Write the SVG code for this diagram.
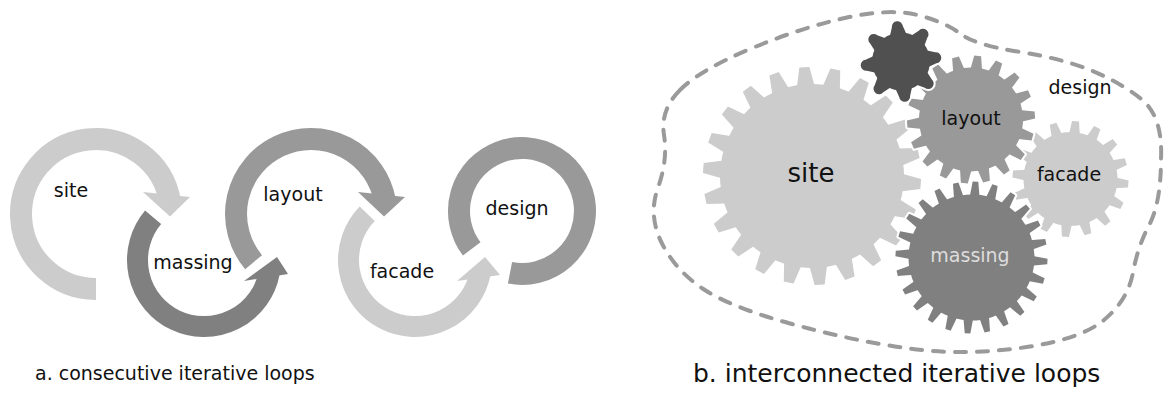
<svg xmlns="http://www.w3.org/2000/svg" xmlns:xlink="http://www.w3.org/1999/xlink" width="1164" height="396" viewBox="0 0 1164 396">
  <style>
    text { font-family: "DejaVu Sans", "Liberation Sans", sans-serif; fill: #111111; }
    .lbl { font-size: 19px; text-anchor: middle; }
    .cap { font-size: 19px; }
    .band { fill: none; stroke-width: 22; stroke-linecap: butt; }
    .band.thin { stroke-width: 21; }
    .c-light { stroke: #cccccc; }
    .c-mid { stroke: #999999; }
    .c-dark { stroke: #808080; }
    .f-light { fill: #cccccc; }
    .f-mid { fill: #999999; }
    .f-dark { fill: #808080; }
    .halo { fill: #ffffff; stroke: #ffffff; stroke-width: 4; stroke-linejoin: round; }
    .boundary { fill: none; stroke: #9a9a9a; stroke-width: 4; stroke-dasharray: 11 11; stroke-linecap: round; }
  </style>

  <defs>
    <!-- single teeth, pointing up from the gear centre -->
    <polygon id="tooth-site" points="-9,-89 -5,-109 5,-109 9,-89"/>
    <polygon id="tooth-layout" points="-6,-49 -3.5,-64 3.5,-64 6,-49"/>
    <polygon id="tooth-facade" points="-5.5,-44 -3.5,-58 3.5,-58 5.5,-44"/>
    <polygon id="tooth-massing" points="-5,-60 -2.8,-76 2.8,-76 5,-60"/>
    <path id="tooth-small" d="M-8.5,-26 L-5.5,-35 A5.5,5.5 0 0 1 5.5,-35 L8.5,-26 Z"/>

    <g id="gear-site-shape">
      <circle r="92"/>
      <use xlink:href="#tooth-site" transform="rotate(0)"/>
      <use xlink:href="#tooth-site" transform="rotate(16.36)"/>
      <use xlink:href="#tooth-site" transform="rotate(32.73)"/>
      <use xlink:href="#tooth-site" transform="rotate(49.09)"/>
      <use xlink:href="#tooth-site" transform="rotate(65.45)"/>
      <use xlink:href="#tooth-site" transform="rotate(81.82)"/>
      <use xlink:href="#tooth-site" transform="rotate(98.18)"/>
      <use xlink:href="#tooth-site" transform="rotate(114.55)"/>
      <use xlink:href="#tooth-site" transform="rotate(130.91)"/>
      <use xlink:href="#tooth-site" transform="rotate(147.27)"/>
      <use xlink:href="#tooth-site" transform="rotate(163.64)"/>
      <use xlink:href="#tooth-site" transform="rotate(180)"/>
      <use xlink:href="#tooth-site" transform="rotate(196.36)"/>
      <use xlink:href="#tooth-site" transform="rotate(212.73)"/>
      <use xlink:href="#tooth-site" transform="rotate(229.09)"/>
      <use xlink:href="#tooth-site" transform="rotate(245.45)"/>
      <use xlink:href="#tooth-site" transform="rotate(261.82)"/>
      <use xlink:href="#tooth-site" transform="rotate(278.18)"/>
      <use xlink:href="#tooth-site" transform="rotate(294.55)"/>
      <use xlink:href="#tooth-site" transform="rotate(310.91)"/>
      <use xlink:href="#tooth-site" transform="rotate(327.27)"/>
      <use xlink:href="#tooth-site" transform="rotate(343.64)"/>
    </g>

    <g id="gear-layout-shape">
      <circle r="52"/>
      <use xlink:href="#tooth-layout" transform="rotate(0)"/>
      <use xlink:href="#tooth-layout" transform="rotate(20)"/>
      <use xlink:href="#tooth-layout" transform="rotate(40)"/>
      <use xlink:href="#tooth-layout" transform="rotate(60)"/>
      <use xlink:href="#tooth-layout" transform="rotate(80)"/>
      <use xlink:href="#tooth-layout" transform="rotate(100)"/>
      <use xlink:href="#tooth-layout" transform="rotate(120)"/>
      <use xlink:href="#tooth-layout" transform="rotate(140)"/>
      <use xlink:href="#tooth-layout" transform="rotate(160)"/>
      <use xlink:href="#tooth-layout" transform="rotate(180)"/>
      <use xlink:href="#tooth-layout" transform="rotate(200)"/>
      <use xlink:href="#tooth-layout" transform="rotate(220)"/>
      <use xlink:href="#tooth-layout" transform="rotate(240)"/>
      <use xlink:href="#tooth-layout" transform="rotate(260)"/>
      <use xlink:href="#tooth-layout" transform="rotate(280)"/>
      <use xlink:href="#tooth-layout" transform="rotate(300)"/>
      <use xlink:href="#tooth-layout" transform="rotate(320)"/>
      <use xlink:href="#tooth-layout" transform="rotate(340)"/>
    </g>

    <g id="gear-facade-shape">
      <circle r="47"/>
      <use xlink:href="#tooth-facade" transform="rotate(0)"/>
      <use xlink:href="#tooth-facade" transform="rotate(22.5)"/>
      <use xlink:href="#tooth-facade" transform="rotate(45)"/>
      <use xlink:href="#tooth-facade" transform="rotate(67.5)"/>
      <use xlink:href="#tooth-facade" transform="rotate(90)"/>
      <use xlink:href="#tooth-facade" transform="rotate(112.5)"/>
      <use xlink:href="#tooth-facade" transform="rotate(135)"/>
      <use xlink:href="#tooth-facade" transform="rotate(157.5)"/>
      <use xlink:href="#tooth-facade" transform="rotate(180)"/>
      <use xlink:href="#tooth-facade" transform="rotate(202.5)"/>
      <use xlink:href="#tooth-facade" transform="rotate(225)"/>
      <use xlink:href="#tooth-facade" transform="rotate(247.5)"/>
      <use xlink:href="#tooth-facade" transform="rotate(270)"/>
      <use xlink:href="#tooth-facade" transform="rotate(292.5)"/>
      <use xlink:href="#tooth-facade" transform="rotate(315)"/>
      <use xlink:href="#tooth-facade" transform="rotate(337.5)"/>
    </g>

    <g id="gear-massing-shape">
      <circle r="63"/>
      <use xlink:href="#tooth-massing" transform="rotate(0)"/>
      <use xlink:href="#tooth-massing" transform="rotate(15)"/>
      <use xlink:href="#tooth-massing" transform="rotate(30)"/>
      <use xlink:href="#tooth-massing" transform="rotate(45)"/>
      <use xlink:href="#tooth-massing" transform="rotate(60)"/>
      <use xlink:href="#tooth-massing" transform="rotate(75)"/>
      <use xlink:href="#tooth-massing" transform="rotate(90)"/>
      <use xlink:href="#tooth-massing" transform="rotate(105)"/>
      <use xlink:href="#tooth-massing" transform="rotate(120)"/>
      <use xlink:href="#tooth-massing" transform="rotate(135)"/>
      <use xlink:href="#tooth-massing" transform="rotate(150)"/>
      <use xlink:href="#tooth-massing" transform="rotate(165)"/>
      <use xlink:href="#tooth-massing" transform="rotate(180)"/>
      <use xlink:href="#tooth-massing" transform="rotate(195)"/>
      <use xlink:href="#tooth-massing" transform="rotate(210)"/>
      <use xlink:href="#tooth-massing" transform="rotate(225)"/>
      <use xlink:href="#tooth-massing" transform="rotate(240)"/>
      <use xlink:href="#tooth-massing" transform="rotate(255)"/>
      <use xlink:href="#tooth-massing" transform="rotate(270)"/>
      <use xlink:href="#tooth-massing" transform="rotate(285)"/>
      <use xlink:href="#tooth-massing" transform="rotate(300)"/>
      <use xlink:href="#tooth-massing" transform="rotate(315)"/>
      <use xlink:href="#tooth-massing" transform="rotate(330)"/>
      <use xlink:href="#tooth-massing" transform="rotate(345)"/>
    </g>

    <g id="gear-small-shape">
      <circle r="29"/>
      <use xlink:href="#tooth-small" transform="rotate(0)"/>
      <use xlink:href="#tooth-small" transform="rotate(45)"/>
      <use xlink:href="#tooth-small" transform="rotate(90)"/>
      <use xlink:href="#tooth-small" transform="rotate(135)"/>
      <use xlink:href="#tooth-small" transform="rotate(180)"/>
      <use xlink:href="#tooth-small" transform="rotate(225)"/>
      <use xlink:href="#tooth-small" transform="rotate(270)"/>
      <use xlink:href="#tooth-small" transform="rotate(315)"/>
    </g>
  </defs>

  <!-- a. consecutive loops: curved arrow bands -->
  <g id="loop-site">
    <path class="band c-light" d="M96,289 A75,75 0 1 1 169.9,201.0"/>
    <polygon class="f-light" points="143,192 170,216.5 190,197"/>
    <text class="lbl" x="71" y="197">site</text>
  </g>
  <g id="loop-massing">
    <path class="band thin c-dark" d="M153.1,217.3 A66.5,66.5 0 1 0 269.3,272.7"/>
    <polygon class="f-dark" points="244,281 277,257 288,274"/>
    <text class="lbl" x="193" y="269">massing</text>
  </g>
  <g id="loop-layout">
    <path class="band c-mid" d="M253.6,262.2 A75,75 0 1 1 384.9,201.0"/>
    <polygon class="f-mid" points="358,192 384,216.5 405,197"/>
    <text class="lbl" x="293" y="201">layout</text>
  </g>
  <g id="loop-facade">
    <path class="band thin c-light" d="M367.2,213.8 A66.5,66.5 0 1 0 480.3,272.7"/>
    <polygon class="f-light" points="457,281 485,257 500,275"/>
    <text class="lbl" x="402" y="278">facade</text>
  </g>
  <g id="loop-design">
    <path class="band c-mid" d="M471.7,248.9 A63,63 0 1 1 510.0,272.8"/>
    <text class="lbl" x="517" y="215">design</text>
  </g>

  <!-- b. interconnected loops: dashed design boundary around the gears -->
  <g id="connectors">
    <path class="boundary" d="M680,90 Q700,70 750,49 Q800,28 845,18 Q890,8 917.5,15 Q945,22 960,33.5 Q975,45 1017.5,51.5 Q1060,58 1090,70 Q1120,82 1142.5,100 Q1163,118 1161,159 Q1161,200 1150.5,222.5 Q1138,245 1133,272.5 Q1128,300 1104,320 Q1080,340 1020,348 Q960,356 905,348 Q850,340 790,323.5 Q730,307 702.5,288.5 Q675,270 661.5,242.5 Q648,215 658,187.5 Q668,160 664,135 Q660,110 680,90 Z"/>
  </g>

  <g id="gear-site" transform="translate(812,176) rotate(-4)">
    <use xlink:href="#gear-site-shape" class="halo"/>
    <use xlink:href="#gear-site-shape" fill="#cccccc"/>
  </g>
  <g id="gear-facade" transform="translate(1070.5,179) rotate(5)">
    <use xlink:href="#gear-facade-shape" class="halo"/>
    <use xlink:href="#gear-facade-shape" fill="#cccccc"/>
  </g>
  <g id="gear-layout" transform="translate(971,119.5) rotate(6)">
    <use xlink:href="#gear-layout-shape" class="halo"/>
    <use xlink:href="#gear-layout-shape" fill="#999999"/>
  </g>
  <g id="gear-massing" transform="translate(971.5,257.5) rotate(3)">
    <use xlink:href="#gear-massing-shape" class="halo"/>
    <use xlink:href="#gear-massing-shape" fill="#808080"/>
  </g>
  <g id="gear-small" transform="translate(901,61.5) rotate(-6)">
    <use xlink:href="#gear-small-shape" class="halo"/>
    <use xlink:href="#gear-small-shape" fill="#505050"/>
  </g>

  <g id="gear-labels">
    <text x="811" y="182" style="font-size:26px;text-anchor:middle">site</text>
    <text class="lbl" x="971" y="125">layout</text>
    <text class="lbl" x="1069" y="181">facade</text>
    <text class="lbl" x="970" y="262" style="fill:#dddddd">massing</text>
    <text class="lbl" x="1080" y="94">design</text>
  </g>

  <text class="cap" x="35" y="380">a. consecutive iterative loops</text>
  <text class="cap" x="693" y="382" style="font-size:25px">b. interconnected iterative loops</text>
</svg>
